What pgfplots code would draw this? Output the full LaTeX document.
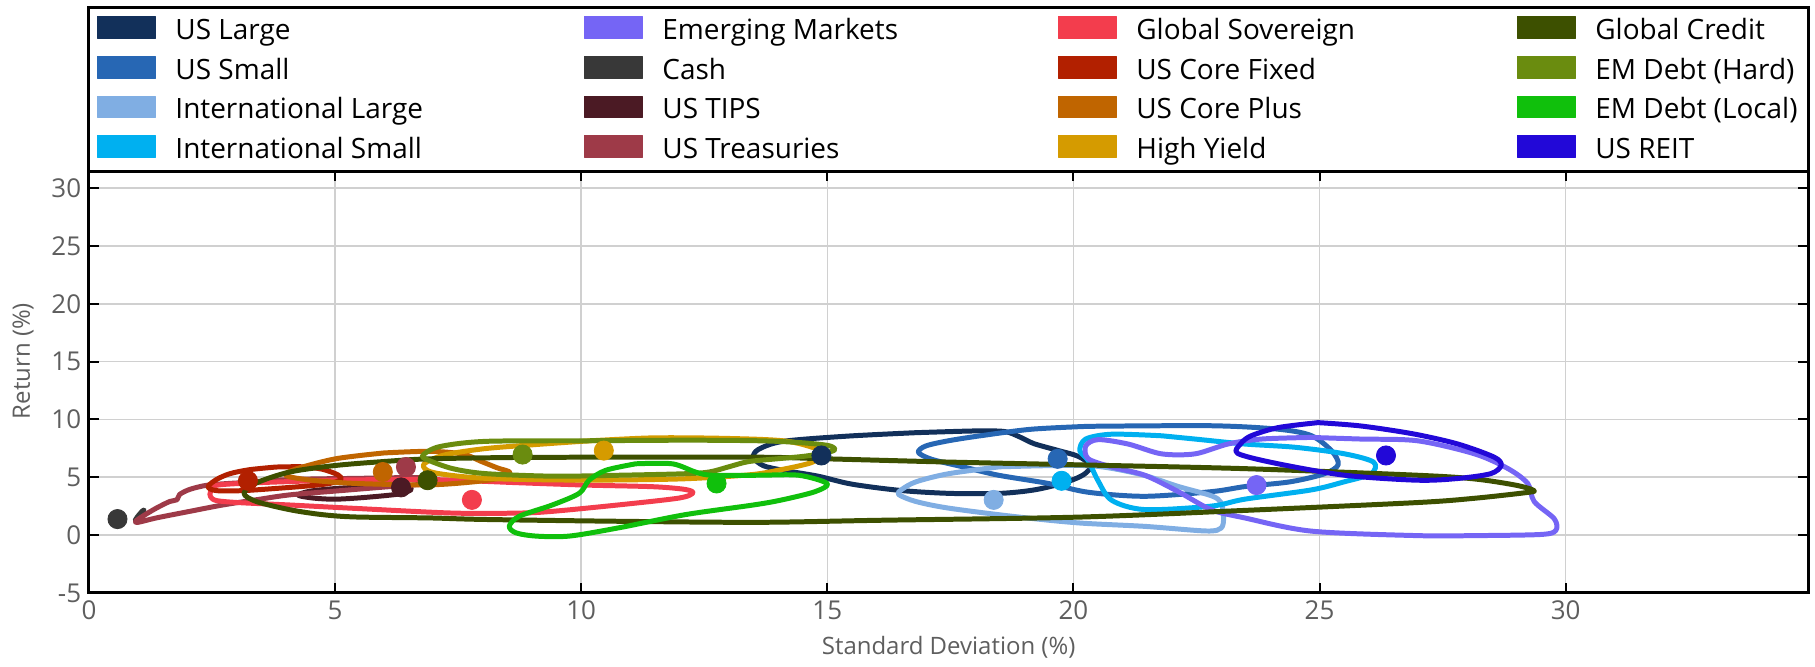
\documentclass[border=0pt]{standalone}
\usepackage{fontspec}
\setmainfont{Open Sans}
\usepackage{pgfplots}
\pgfplotsset{compat=1.18}
\definecolor{cUSL}{HTML}{12305A}
\definecolor{cUSS}{HTML}{2767B4}
\definecolor{cIL}{HTML}{80AEE3}
\definecolor{cIS}{HTML}{00B0F0}
\definecolor{cEM}{HTML}{7565F5}
\definecolor{cCash}{HTML}{383838}
\definecolor{cTIPS}{HTML}{4B1A24}
\definecolor{cTre}{HTML}{9E3A48}
\definecolor{cGS}{HTML}{F33D4D}
\definecolor{cCF}{HTML}{B22000}
\definecolor{cCP}{HTML}{C06500}
\definecolor{cHY}{HTML}{D59B00}
\definecolor{cGC}{HTML}{3D5000}
\definecolor{cEMH}{HTML}{6A8C0F}
\definecolor{cEML}{HTML}{10C00C}
\definecolor{cREIT}{HTML}{2208D8}
\definecolor{gridgray}{HTML}{D0D0D0}
\definecolor{tickgray}{HTML}{5E5E5E}
\newcommand\LA[1]{\raisebox{-4pt}[5.5pt][5.5pt]{\makebox[204.8pt][l]{#1}}}
\newcommand\LB[1]{\raisebox{-4pt}[5.5pt][5.5pt]{\makebox[198.3pt][l]{#1}}}
\newcommand\LC[1]{\raisebox{-4pt}[5.5pt][5.5pt]{\makebox[190.8pt][l]{#1}}}
\newcommand\LD[1]{\raisebox{-4pt}[5.5pt][5.5pt]{\makebox[110pt][l]{#1}}}
\begin{document}
\begin{tikzpicture}
\begin{axis}[
  name=ax, scale only axis, width=861.2pt, height=211.1pt,
  xmin=0, xmax=34.93, ymin=-5, ymax=31.44,
  xtick={0,5,...,30}, ytick={-5,0,...,30},
  grid=major, major grid style={line width=0.8pt, color=gridgray},
  axis line style={line width=1.5pt},
  tick style={line width=1pt, black}, major tick length=5pt, tick align=inside,
  /pgf/number format/assume math mode=true,
  ticklabel style={font=\fontsize{13}{15}\selectfont, text=tickgray},
  xticklabel style={inner sep=0pt, anchor=north}, xticklabel shift=3.7pt,
  yticklabel style={inner sep=0pt, anchor=east}, yticklabel shift=3.7pt,
  xlabel={Standard Deviation (\%)}, ylabel={Return (\%)},
  label style={font=\fontsize{12}{14}\selectfont, text=tickgray},
  xlabel style={at={([yshift=-27.4pt]axis description cs:0.5,0)}, anchor=center},
  ylabel style={at={([xshift=-33pt]axis description cs:0,0.55)}, anchor=center},
  legend columns=4,
  legend cell align=left,
  legend style={draw=none, fill=none, inner sep=0pt, outer sep=0pt,
    at={(axis description cs:0,1)}, anchor=north west, xshift=4.25pt, yshift=77.6pt,
    font=\fontsize{14}{16}\selectfont, row sep=8.4pt, column sep=0pt,
    /tikz/every odd column/.append style={column sep=10pt},
    nodes={inner sep=0pt}},
  legend image code/.code={\fill[#1] (0pt,-5.5pt) rectangle (28.7pt,5.5pt);},
  every axis plot/.append style={line join=round},
]
\pgfplotsset{cont/.style={line width=2.5pt, smooth, forget plot}}
% ---- contours ----
\addplot[cont, color=cUSL] coordinates {
(16.8,8.85)(18.0,9.0)(18.6,8.95)(18.9,8.5)(19.2,7.9)(19.7,7.3)(20.1,6.8)(20.35,6.0)(20.2,5.2)(19.8,4.5)(19.2,3.9)(18.5,3.6)(17.5,3.6)(16.5,3.85)(15.5,4.4)(14.8,5.1)(14.1,5.6)(13.7,6.0)(13.5,6.7)(13.6,7.4)(14.1,8.1)(15.4,8.55)(16.8,8.85)};
\addplot[cont, color=cUSS] coordinates {
(20.3,9.4)(22.8,9.45)(24.16,9.15)(24.83,8.6)(25.24,7.3)(25.38,6.1)(25.1,5.3)(24.4,4.6)(23.5,4.2)(22.8,3.75)(21.45,3.35)(20.3,3.7)(19.49,4.46)(18.48,5.17)(17.8,5.85)(17.12,6.55)(16.85,7.15)(17.0,7.7)(17.46,8.15)(18.14,8.6)(19.15,9.15)(20.3,9.4)};
\addplot[cont, color=cIL] coordinates {
(18.5,5.9)(19.5,6.0)(20.3,6.0)(20.8,5.75)(21.45,5.15)(22.13,4.2)(22.8,3.4)(23.0,2.8)(23.05,1.5)(23.0,0.6)(22.7,0.35)(21.45,0.75)(20.1,1.05)(18.8,1.6)(17.46,2.33)(16.8,2.9)(16.45,3.5)(16.5,3.9)(16.8,4.6)(17.46,5.3)(18.5,5.9)};
\addplot[cont, color=cIS] coordinates {
(21.8,8.58)(22.47,8.3)(23.48,7.87)(24.5,7.59)(25.51,7.02)(26.1,6.3)(26.05,5.3)(25.5,4.6)(24.83,3.9)(23.48,3.1)(22.8,2.5)(21.45,2.2)(20.78,3.0)(20.5,4.7)(20.3,6.45)(20.13,7.3)(20.25,8.3)(20.78,8.72)(21.8,8.58)};
\addplot[cont, color=cEM] coordinates {
(24.83,8.44)(25.84,8.3)(26.99,8.15)(28.15,7.02)(28.83,5.74)(29.23,4.46)(29.36,2.9)(29.77,1.4)(29.8,0.4)(29.5,0.05)(28.15,-0.05)(26.99,-0.05)(24.83,0.34)(23.48,1.48)(22.8,2.19)(22.13,3.75)(21.45,5.17)(20.78,5.88)(20.3,6.6)(20.25,7.7)(20.5,8.25)(21.11,7.87)(21.79,7.02)(22.47,7.02)(23.14,7.87)(23.82,8.3)(24.83,8.44)};
\addplot[cont, color=cCash] coordinates {
(1.0,1.4)(1.08,1.85)(1.12,2.15)(1.08,2.05)(0.98,1.55)(0.94,1.25)(1.0,1.4)};
\addplot[cont, color=cTIPS] coordinates {
(5.5,4.15)(6.0,4.25)(6.4,4.2)(6.55,3.95)(6.3,3.55)(5.6,3.25)(5.0,3.1)(4.55,3.2)(4.25,3.45)(4.5,3.8)(5.0,4.02)(5.5,4.15)};
\addplot[cont, color=cTre] coordinates {
(3.0,4.5)(4.08,4.8)(5.43,4.9)(6.8,4.97)(7.1,4.75)(6.9,4.45)(6.0,4.15)(5.0,3.8)(4.07,3.47)(3.4,3.05)(2.72,2.6)(2.05,2.05)(1.37,1.48)(1.0,1.1)(0.95,1.2)(1.1,1.65)(1.37,2.33)(1.64,2.9)(1.79,3.05)(1.84,3.5)(2.05,3.95)(2.42,4.32)(3.0,4.5)};
\addplot[cont, color=cGS] coordinates {
(5.0,4.75)(6.92,4.8)(8.74,4.52)(10.09,4.32)(11.45,4.18)(12.1,3.95)(12.27,3.65)(11.99,3.2)(10.77,2.61)(9.42,2.05)(8.74,1.9)(7.39,1.9)(5.43,2.3)(4.07,2.6)(3.06,2.8)(2.59,2.98)(2.47,3.32)(2.47,3.75)(2.59,4.3)(3.4,4.52)(5.0,4.75)};
\addplot[cont, color=cCF] coordinates {
(3.8,5.88)(4.35,5.9)(4.75,5.68)(5.06,5.2)(5.12,4.8)(4.89,4.46)(4.41,4.23)(3.8,4.03)(3.13,3.84)(2.59,3.84)(2.42,4.18)(2.59,4.8)(2.86,5.3)(3.26,5.65)(3.8,5.88)};
\addplot[cont, color=cCP] coordinates {
(6.0,7.1)(6.92,7.24)(7.6,7.0)(7.95,6.4)(8.3,5.8)(8.55,5.4)(8.2,4.8)(7.0,4.35)(5.43,4.46)(4.5,4.75)(4.0,5.15)(4.2,5.7)(5.02,6.6)(6.0,7.1)};
\addplot[cont, color=cHY] coordinates {
(10.0,8.1)(11.45,8.4)(13.0,8.35)(14.2,8.1)(14.9,7.2)(14.7,6.3)(14.0,5.6)(13.4,5.2)(12.0,4.85)(10.0,4.75)(8.06,4.9)(7.0,5.4)(6.8,6.1)(7.2,6.9)(8.0,7.45)(9.0,7.8)(10.0,8.1)};
\addplot[cont, color=cGC] coordinates {
(10.09,6.73)(13.61,6.73)(14.98,6.59)(17.46,6.31)(19.98,6.08)(23.48,5.74)(26.99,5.17)(28.15,4.85)(29.0,4.3)(29.36,3.84)(29.16,3.65)(28.15,3.18)(26.99,2.81)(23.48,2.13)(20.1,1.55)(16.11,1.28)(13.61,1.1)(10.77,1.19)(8.0,1.35)(6.92,1.48)(5.43,1.56)(4.75,1.76)(4.08,2.19)(3.4,2.9)(3.15,3.6)(3.4,4.5)(4.08,5.45)(5.02,6.02)(6.1,6.39)(6.92,6.59)(8.5,6.7)(10.09,6.73)};
\addplot[cont, color=cEMH] coordinates {
(10.09,8.15)(12.14,8.2)(13.61,8.15)(14.42,8.0)(15.03,7.73)(15.13,7.3)(14.6,6.85)(14.0,6.6)(13.4,6.35)(13.0,5.9)(12.6,5.45)(12.1,5.3)(10.77,5.17)(9.42,5.09)(8.06,5.31)(7.39,5.74)(6.91,6.45)(6.78,6.88)(7.12,7.64)(8.06,8.1)(10.09,8.15)};
\addplot[cont, color=cEML] coordinates {
(11.11,6.16)(11.85,6.16)(12.32,5.45)(12.66,5.17)(13.61,5.17)(14.42,5.17)(15.0,4.45)(14.75,3.75)(14.08,3.04)(13.5,2.6)(12.11,1.76)(10.77,0.63)(9.76,-0.09)(9.08,-0.09)(8.67,0.2)(8.54,0.77)(8.74,1.62)(9.42,2.61)(9.96,3.61)(10.16,4.74)(10.5,5.6)(11.11,6.16)};
\addplot[cont, color=cREIT] coordinates {
(24.97,9.72)(25.84,9.43)(26.9,8.75)(27.81,7.87)(28.55,6.73)(28.69,6.02)(28.48,5.31)(27.81,4.89)(26.99,4.74)(25.51,5.17)(24.16,6.16)(23.34,7.05)(23.4,7.9)(23.61,8.58)(24.16,9.29)(24.97,9.72)};
% ---- means ----
\pgfplotsset{dot/.style={only marks, mark=*, mark size=4.8pt, forget plot}}
\addplot[dot, color=cUSL] coordinates {(14.88,6.88)};
\addplot[dot, color=cUSS] coordinates {(19.68,6.59)};
\addplot[dot, color=cIL] coordinates {(18.38,3.04)};
\addplot[dot, color=cIS] coordinates {(19.76,4.69)};
\addplot[dot, color=cEM] coordinates {(23.72,4.32)};
\addplot[dot, color=cCash] coordinates {(0.58,1.38)};
\addplot[dot, color=cTIPS] coordinates {(6.34,4.12)};
\addplot[dot, color=cTre] coordinates {(6.44,5.88)};
\addplot[dot, color=cGS] coordinates {(7.78,3.04)};
\addplot[dot, color=cCF] coordinates {(3.23,4.69)};
\addplot[dot, color=cCP] coordinates {(5.97,5.45)};
\addplot[dot, color=cHY] coordinates {(10.46,7.3)};
\addplot[dot, color=cGC] coordinates {(6.88,4.74)};
\addplot[dot, color=cEMH] coordinates {(8.81,6.96)};
\addplot[dot, color=cEML] coordinates {(12.75,4.46)};
\addplot[dot, color=cREIT] coordinates {(26.35,6.88)};
% ---- legend (row-major order) ----
\addlegendimage{color=cUSL}\addlegendentry{\LA{US Large}}
\addlegendimage{color=cEM}\addlegendentry{\LB{Emerging Markets}}
\addlegendimage{color=cGS}\addlegendentry{\LC{Global Sovereign}}
\addlegendimage{color=cGC}\addlegendentry{\LD{Global Credit}}
\addlegendimage{color=cUSS}\addlegendentry{\LA{US Small}}
\addlegendimage{color=cCash}\addlegendentry{\LB{Cash}}
\addlegendimage{color=cCF}\addlegendentry{\LC{US Core Fixed}}
\addlegendimage{color=cEMH}\addlegendentry{\LD{EM Debt (Hard)}}
\addlegendimage{color=cIL}\addlegendentry{\LA{International Large}}
\addlegendimage{color=cTIPS}\addlegendentry{\LB{US TIPS}}
\addlegendimage{color=cCP}\addlegendentry{\LC{US Core Plus}}
\addlegendimage{color=cEML}\addlegendentry{\LD{EM Debt (Local)}}
\addlegendimage{color=cIS}\addlegendentry{\LA{International Small}}
\addlegendimage{color=cTre}\addlegendentry{\LB{US Treasuries}}
\addlegendimage{color=cHY}\addlegendentry{\LC{High Yield}}
\addlegendimage{color=cREIT}\addlegendentry{\LD{US REIT}}
\coordinate (SW) at (axis description cs:0,0);
\coordinate (NW) at (axis description cs:0,1);
\coordinate (NE) at (axis description cs:1,1);
\end{axis}
\draw[line width=1.5pt] (NW) rectangle ([yshift=82.2pt]NE);
\path ([xshift=-44.55pt,yshift=-36.85pt]SW) rectangle ([xshift=1.75pt,yshift=85.85pt]NE);
\end{tikzpicture}
\end{document}
